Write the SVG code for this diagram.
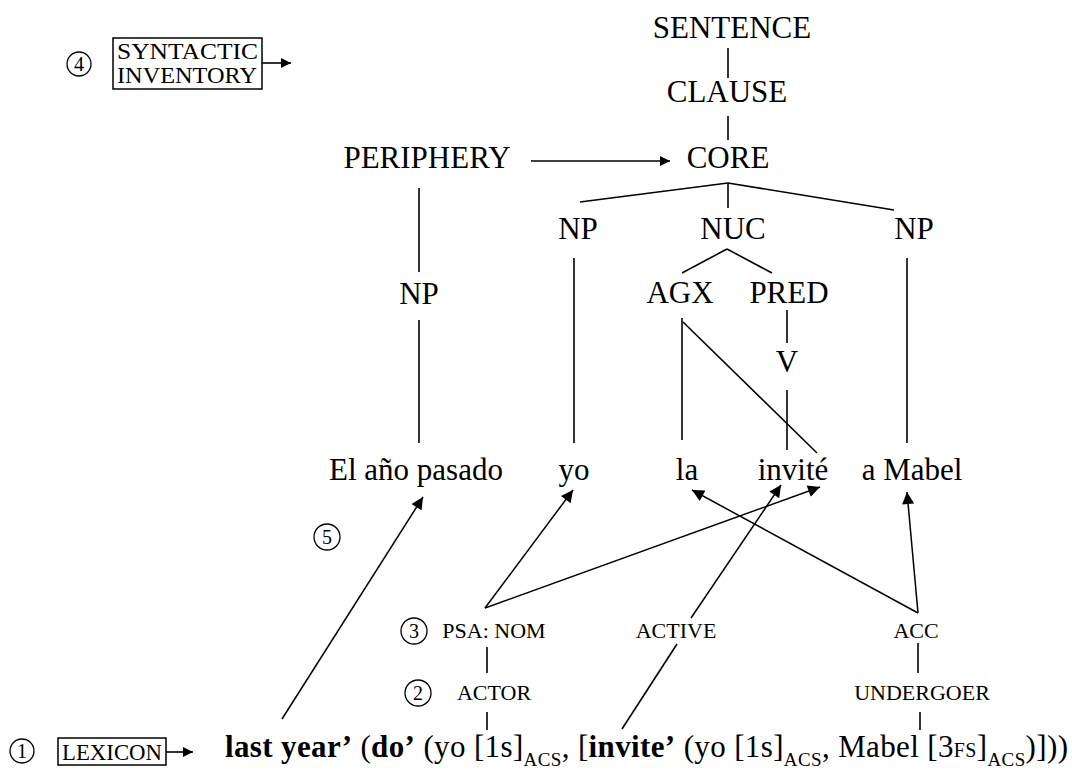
<svg xmlns="http://www.w3.org/2000/svg" width="1072" height="771" viewBox="0 0 1072 771">
<style>
.L{font-size:31px;text-anchor:middle}
.S{font-size:22px;text-anchor:middle}
.num{font-size:20px;text-anchor:middle}
.c{fill:none;stroke:#000;stroke-width:1.3}
.ln{stroke:#000;stroke-width:1.6;fill:none}
.ar{stroke:#000;stroke-width:1.5;fill:none;marker-end:url(#ah)}
.ars{stroke:#000;stroke-width:1.6;fill:none;marker-end:url(#ahs)}
.box{fill:none;stroke:#000;stroke-width:1.5}
.b{font-weight:bold}
</style>
<defs>
<marker id="ah" viewBox="0 0 10 10" refX="10" refY="5" markerUnits="userSpaceOnUse" markerWidth="16" markerHeight="12" orient="auto"><path d="M0,0 L10,5 L0,10 z" fill="#000"/></marker>
<marker id="ahs" viewBox="0 0 10 10" refX="10" refY="5" markerUnits="userSpaceOnUse" markerWidth="11" markerHeight="10" orient="auto"><path d="M0,0 L10,5 L0,10 z" fill="#000"/></marker>
</defs>
<rect width="1072" height="771" fill="#fff"/>

<g id="connectors">
<line class="ln" x1="728" y1="48" x2="728" y2="78"/>
<line class="ln" x1="728" y1="116" x2="728" y2="140"/>
<line class="ars" x1="531" y1="161" x2="670" y2="161"/>
<line class="ln" x1="728" y1="183" x2="580" y2="202"/>
<line class="ln" x1="728" y1="183" x2="728" y2="208"/>
<line class="ln" x1="728" y1="183" x2="894" y2="210"/>
<line class="ln" x1="419" y1="188" x2="419" y2="272"/>
<line class="ln" x1="419" y1="320" x2="419" y2="443"/>
<line class="ln" x1="574" y1="258" x2="574" y2="443"/>
<line class="ln" x1="907" y1="258" x2="907" y2="443"/>
<line class="ln" x1="727" y1="249" x2="682" y2="273"/>
<line class="ln" x1="727" y1="249" x2="772" y2="273"/>
<line class="ln" x1="682" y1="318" x2="682" y2="440"/>
<line class="ln" x1="683" y1="322" x2="817" y2="453"/>
<line class="ln" x1="787" y1="310" x2="787" y2="343"/>
<line class="ln" x1="787" y1="390" x2="787" y2="450"/>
<line class="ar" x1="282" y1="719" x2="423" y2="497"/>
<line class="ar" x1="485" y1="608" x2="573" y2="490"/>
<line class="ar" x1="485" y1="608" x2="820" y2="487"/>
<line class="ln" x1="622" y1="729" x2="677" y2="644"/>
<line class="ar" x1="691" y1="618" x2="781" y2="485"/>
<line class="ar" x1="918" y1="613" x2="692" y2="490"/>
<line class="ar" x1="918" y1="613" x2="907" y2="492"/>
<line class="ln" x1="487" y1="647" x2="487" y2="673"/>
<line class="ln" x1="487" y1="712" x2="487" y2="730"/>
<line class="ln" x1="918" y1="643" x2="918" y2="673"/>
<line class="ln" x1="920" y1="712" x2="920" y2="730"/>
<line class="ars" x1="262" y1="63" x2="291" y2="63"/>
<line class="ars" x1="166" y1="752" x2="193" y2="752"/>
</g>

<g font-family="Liberation Serif" fill="#000">
<g id="n-syntactic-inventory">
<circle class="c" cx="79" cy="64" r="12"/>
<text class="num" x="79" y="71" font-family="Liberation Serif">4</text>
<rect class="box" x="113" y="38" width="149" height="51"/>
<text x="117" y="59" font-size="23" font-family="Liberation Serif" textLength="141" lengthAdjust="spacingAndGlyphs">SYNTACTIC</text>
<text x="117" y="83" font-size="23" font-family="Liberation Serif" textLength="140" lengthAdjust="spacingAndGlyphs">INVENTORY</text>
</g>
<g id="n-sentence"><text class="L" font-family="Liberation Serif" x="732" y="38">SENTENCE</text></g>
<g id="n-clause"><text class="L" font-family="Liberation Serif" x="727" y="102">CLAUSE</text></g>
<g id="n-core"><text class="L" font-family="Liberation Serif" x="728" y="168">CORE</text></g>
<g id="n-periphery"><text class="L" font-family="Liberation Serif" x="427" y="168">PERIPHERY</text></g>
<g id="n-np-left"><text class="L" font-family="Liberation Serif" x="578" y="239">NP</text></g>
<g id="n-nuc"><text class="L" font-family="Liberation Serif" x="733" y="239">NUC</text></g>
<g id="n-np-right"><text class="L" font-family="Liberation Serif" x="914" y="239">NP</text></g>
<g id="n-np-periphery"><text class="L" font-family="Liberation Serif" x="419" y="304">NP</text></g>
<g id="n-agx"><text class="L" font-family="Liberation Serif" x="680" y="303">AGX</text></g>
<g id="n-pred"><text class="L" font-family="Liberation Serif" x="789" y="303">PRED</text></g>
<g id="n-v"><text class="L" font-family="Liberation Serif" x="787" y="372">V</text></g>
<g id="n-el-ano-pasado"><text class="L" font-family="Liberation Serif" x="416" y="480">El año pasado</text></g>
<g id="n-yo"><text class="L" font-family="Liberation Serif" x="574" y="480">yo</text></g>
<g id="n-la"><text class="L" font-family="Liberation Serif" x="687" y="480">la</text></g>
<g id="n-invite"><text class="L" font-family="Liberation Serif" x="793" y="480">invité</text></g>
<g id="n-a-mabel"><text class="L" font-family="Liberation Serif" x="912" y="480">a Mabel</text></g>
<g id="n-5"><circle class="c" cx="327" cy="537" r="13"/><text class="num" font-family="Liberation Serif" x="327" y="544">5</text></g>
<g id="n-psa-nom">
<circle class="c" cx="414" cy="631" r="13"/><text class="num" font-family="Liberation Serif" x="414" y="638">3</text>
<text class="S" font-family="Liberation Serif" x="494" y="638">PSA: NOM</text>
</g>
<g id="n-actor">
<circle class="c" cx="418" cy="693" r="13"/><text class="num" font-family="Liberation Serif" x="418" y="700">2</text>
<text class="S" font-family="Liberation Serif" x="494" y="700">ACTOR</text>
</g>
<g id="n-active"><text class="S" font-family="Liberation Serif" x="676" y="638">ACTIVE</text></g>
<g id="n-acc"><text class="S" font-family="Liberation Serif" x="916" y="638">ACC</text></g>
<g id="n-undergoer"><text class="S" font-family="Liberation Serif" x="922" y="700">UNDERGOER</text></g>
<g id="n-lexicon">
<circle class="c" cx="22" cy="751" r="12"/><text class="num" font-family="Liberation Serif" x="22" y="758">1</text>
<rect class="box" x="58" y="738" width="108" height="27"/>
<text x="62" y="760" font-size="23" font-family="Liberation Serif" textLength="100" lengthAdjust="spacingAndGlyphs">LEXICON</text>
</g>
<g id="n-formula">
<text x="225" y="757" font-size="31" font-family="Liberation Serif" textLength="843" lengthAdjust="spacing"><tspan class="b">last year’</tspan> (<tspan class="b">do’</tspan> (yo [1s]<tspan font-size="19" dy="9">ACS</tspan><tspan dy="-9">, [</tspan><tspan class="b">invite’</tspan> (yo [1s]<tspan font-size="19" dy="9">ACS</tspan><tspan dy="-9">, Mabel [3</tspan><tspan font-size="20">FS</tspan>]<tspan font-size="19" dy="9">ACS</tspan><tspan dy="-9">)]))</tspan></text>
</g>
</g>
</svg>
